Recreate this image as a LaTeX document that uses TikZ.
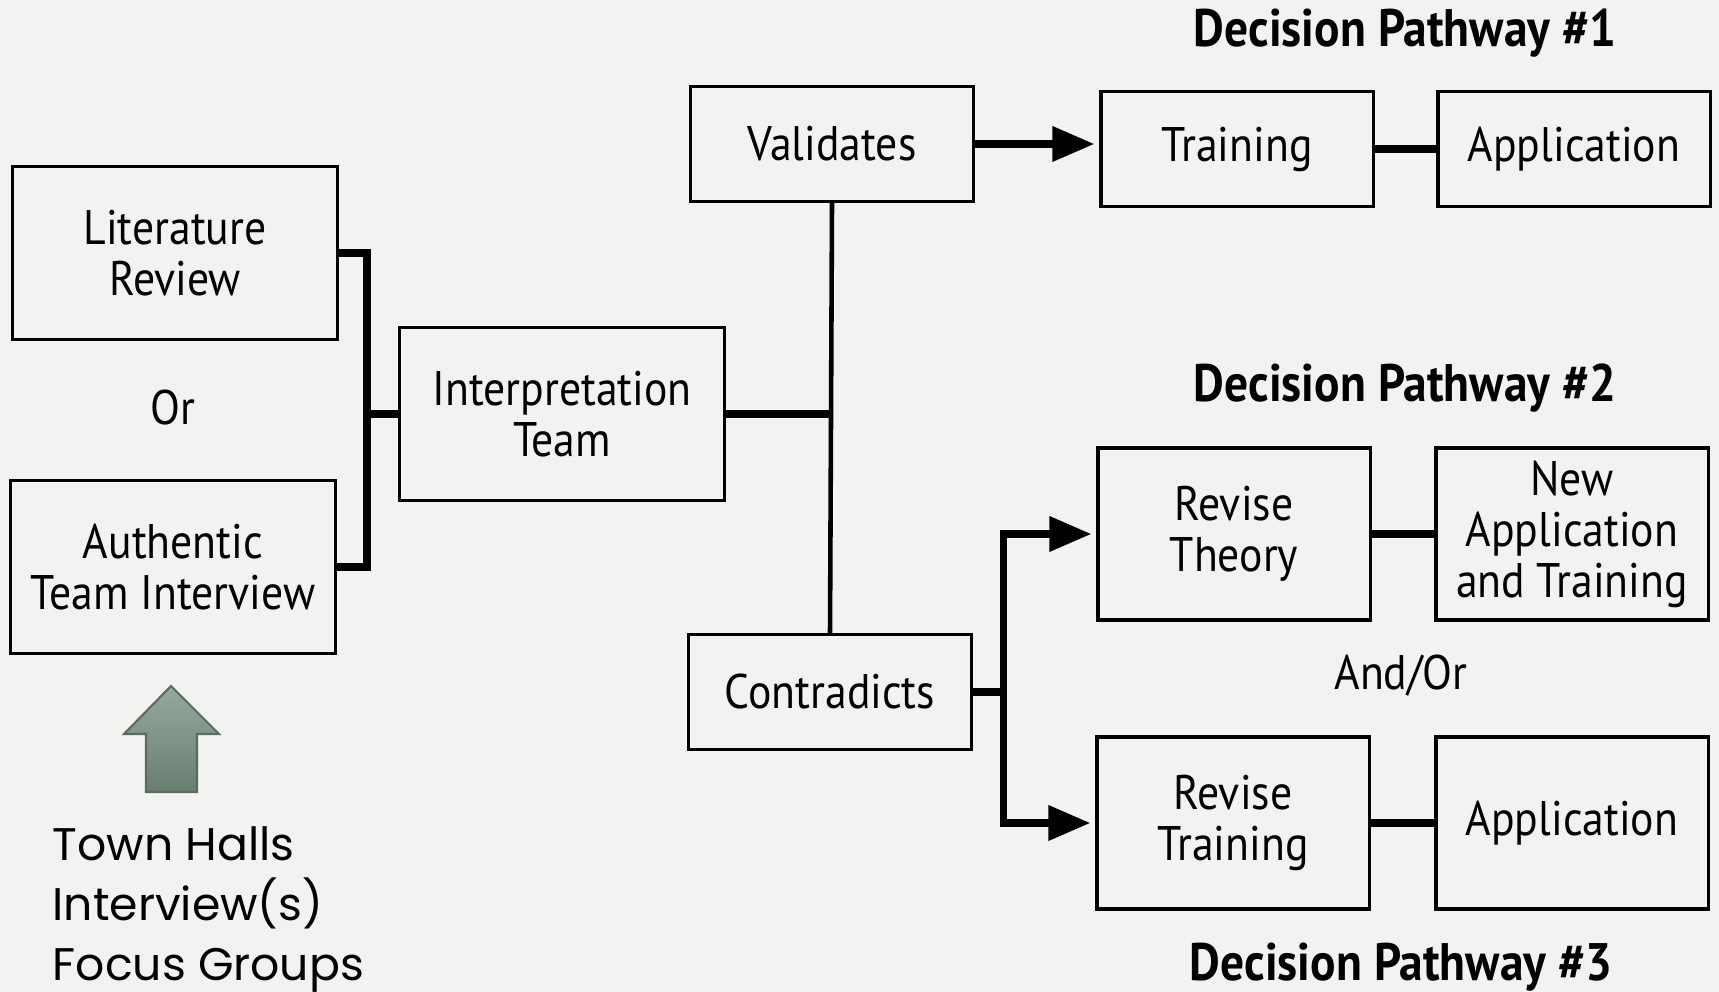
\documentclass[tikz,border=0pt]{standalone}
\usepackage{fontspec}
\setmainfont{PT Sans}[FakeStretch=0.9]
\newfontfamily\townfont{Poppins}
\usetikzlibrary{arrows.meta}

\definecolor{paper}{RGB}{242,242,241}
\definecolor{sagetop}{RGB}{150,170,156}
\definecolor{sagebot}{RGB}{104,126,113}
\definecolor{sageline}{RGB}{88,108,95}

\tikzset{
  box/.style={draw,line width=0.9pt,align=center,inner sep=0pt,
    font=\fontsize{13.8}{14.5}\selectfont},
  srcbox/.style={box,minimum width=3.24cm,minimum height=1.73cm},
  hubbox/.style={box,minimum width=2.83cm,minimum height=1.15cm},
  outbox/.style={box,minimum width=2.72cm,minimum height=1.15cm},
  outtall/.style={box,minimum width=2.72cm,minimum height=1.72cm},
  link/.style={line width=2pt},
  stem/.style={line width=1.3pt},
  arr/.style={line width=2pt,-{Triangle[length=0.42cm,width=0.34cm]},shorten >=0.05cm},
  heading/.style={font=\bfseries\fontsize{15}{16}\selectfont},
  word/.style={font=\fontsize{13.8}{14.5}\selectfont}
}

\begin{document}
\begin{tikzpicture}[x=0.01cm,y=-0.01cm]
\fill [paper] (0,0) rectangle (1719,992);
\useasboundingbox (0,0) rectangle (1719,992);

\node [srcbox] (lit) at (175,253) {Literature\\Review};
\node [srcbox] (auth) at (173,567) {Authentic\\Team Interview};
\node [word] (or) at (173,408) {Or};
\node [srcbox] (interp) at (562,414) {Interpretation\\Team};

\node [hubbox] (val) at (832,144) {Validates};
\node [hubbox] (con) at (830,692) {Contradicts};

\node [outbox] (train) at (1237,149) {Training};
\node [outbox] (app1) at (1574,149) {Application};
\node [outtall] (rth) at (1234,534) {Revise\\Theory};
\node [outtall] (newapp) at (1572,534) {New\\Application\\and Training};
\node [outtall] (rtr) at (1233,823) {Revise\\Training};
\node [outtall] (app3) at (1572,823) {Application};

\node [heading] (dp1) at (1405,33) {Decision Pathway \#1};
\node [heading] (dp2) at (1405,388) {Decision Pathway \#2};
\node [heading] (dp3) at (1401,967) {Decision Pathway \#3};
\node [word] (andor) at (1401,676) {And/Or};

\coordinate (brk) at (367,414);
\coordinate (fork) at (1003,692);

\draw [link] (lit.east) -| (brk) |- (auth.east);
\draw [link] (brk) -- (interp.west);
\draw [link] (interp.east) -- (interp.east -| con.north);
\draw [stem] (val.south) -- (con.north);
\draw [arr] (val.east) -- (val.east -| train.west);
\draw [link] (train.east) -- (app1.west);
\draw [link] (con.east) -- (fork);
\draw [arr] (fork) |- (rth.west);
\draw [arr] (fork) |- (rtr.west);
\draw [link] (rth.east) -- (newapp.west);
\draw [link] (rtr.east) -- (app3.west);

\shade [top color=sagetop,bottom color=sagebot,draw=sageline,line width=0.6pt]
  (146,792) -- (146,734) -- (124,734) -- (171,686) -- (219,734) -- (197,734) -- (197,792) -- cycle;
\node [anchor=north west,align=left,inner sep=0pt,
  font=\townfont\fontsize{13}{17}\selectfont] (town) at (52,826)
  {Town Halls\\Interview(s)\\Focus Groups};
\end{tikzpicture}
\end{document}
